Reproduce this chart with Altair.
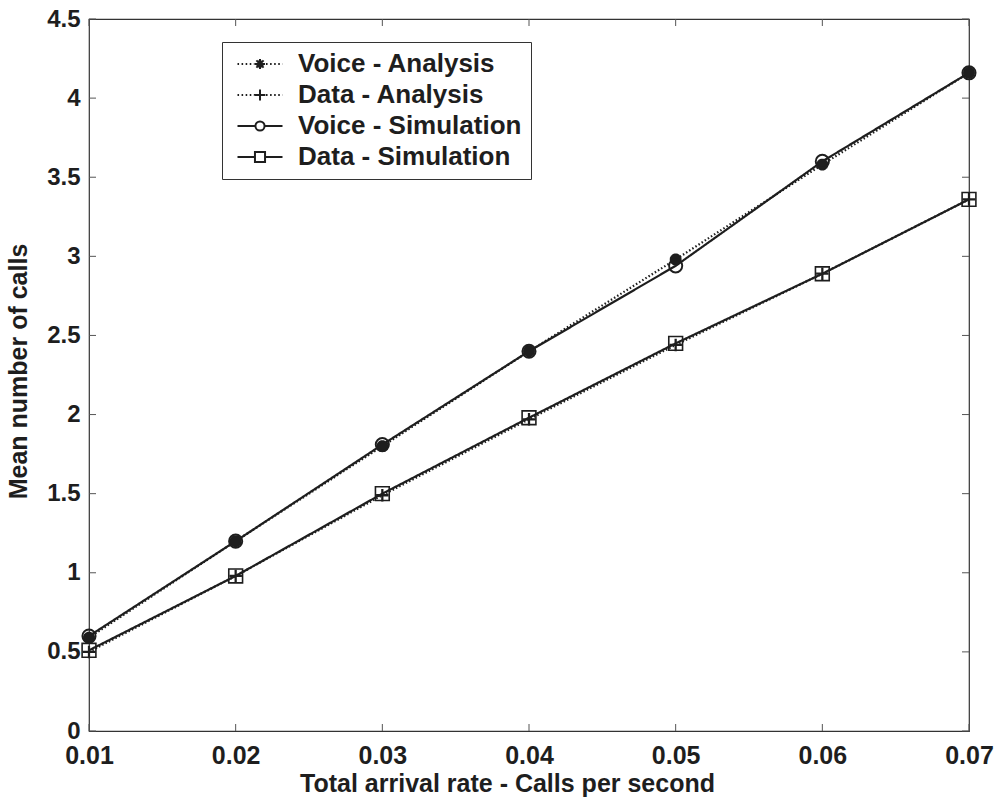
import altair as alt
import pandas as pd

# ---- data ----
x_rate = [0.01, 0.02, 0.03, 0.04, 0.05, 0.06, 0.07]
voice_analysis = [0.59, 1.20, 1.80, 2.40, 2.98, 3.58, 4.16]
data_analysis = [0.50, 0.98, 1.49, 1.97, 2.44, 2.89, 3.36]
voice_simulation = [0.60, 1.20, 1.81, 2.40, 2.94, 3.60, 4.16]
data_simulation = [0.51, 0.98, 1.50, 1.98, 2.45, 2.89, 3.36]
series_names = ["Voice - Analysis", "Data - Analysis", "Voice - Simulation", "Data - Simulation"]
x_ticks = [0.01, 0.02, 0.03, 0.04, 0.05, 0.06, 0.07]
y_ticks = [0, 0.5, 1, 1.5, 2, 2.5, 3, 3.5, 4, 4.5]

W, H = 880, 712
INK = "#1e1e1e"
FONT = "Liberation Sans"

rows = []
for name, vals in zip(series_names, [voice_analysis, data_analysis, voice_simulation, data_simulation]):
    for xv, yv in zip(x_rate, vals):
        rows.append({"rate": xv, "calls": yv, "series": name})
df = pd.DataFrame(rows)
xt = pd.DataFrame({"rate": x_ticks})
yt = pd.DataFrame({"calls": y_ticks})

xscale = alt.Scale(domain=[0.01, 0.07], nice=False, zero=False)
yscale = alt.Scale(domain=[0, 4.5], nice=False, zero=False)

xaxis = alt.Axis(values=x_ticks, format=".2f", title="Total arrival rate - Calls per second",
                 labelPadding=12, labelFlush=False, labelOverlap=False,
                 titleX=418, titleY=60, titleBaseline="alphabetic", titleAlign="center")
yaxis = alt.Axis(values=y_ticks, format="~g", title="Mean number of calls",
                 labelPadding=9, labelFlush=False, labelOverlap=False, labelFontSize=24,
                 titleX=-63, titleY=352, titleBaseline="alphabetic", titleAngle=270,
                 titleAlign="center")

X = alt.X("rate:Q", scale=xscale, axis=xaxis)
Y = alt.Y("calls:Q", scale=yscale, axis=yaxis)

# ---- marker shapes (style) ----
asterisk = "M-1,0H1M0,-1V1M-0.7,-0.7L0.7,0.7M-0.7,0.7L0.7,-0.7M-0.45,-0.9L0.45,0.9M-0.45,0.9L0.45,-0.9M-0.9,-0.45L0.9,0.45M-0.9,0.45L0.9,-0.45"
plus = "M-1,0H1M0,-1V1"


def dotted(a, b, period=0.34, dash=0.13):
    segs = []
    x = a
    while x < b - 1e-9:
        segs.append(f"M{x:.3f},0H{min(x + dash, b):.3f}")
        x += period
    return "".join(segs)


L, m = 1.875, 0.45
leg_voice_ana = dotted(-L, -m) + "M-0.42,0H0.42M0,-0.42V0.42M-0.3,-0.3L0.3,0.3M-0.3,0.3L0.3,-0.3M0,-0.3L0.3,0L0,0.3L-0.3,0Z" + dotted(m + 0.05, L)
leg_data_ana = dotted(-L, -m) + "M-0.45,0H0.45M0,-0.45V0.45" + dotted(m + 0.05, L)
leg_voice_sim = f"M{-L},0H-0.38M0.38,0H{L}M-0.38,0A0.38,0.38 0 1,0 0.38,0A0.38,0.38 0 1,0 -0.38,0Z"
leg_data_sim = f"M{-L},0H-0.42M0.42,0H{L}M-0.42,-0.42H0.42V0.42H-0.42Z"

base = alt.Chart(df)

lines = base.mark_line(strokeWidth=2.2, color=INK).encode(
    x=X, y=Y,
    strokeDash=alt.StrokeDash("series:N", scale=alt.Scale(domain=series_names,
                              range=[[1.5, 2.2], [1.5, 2.2], [1, 0], [1, 0]]), legend=None),
)

points = base.mark_point(filled=False, color=INK, opacity=1).encode(
    x=X, y=Y,
    shape=alt.Shape("series:N", scale=alt.Scale(domain=series_names,
                    range=[asterisk, plus, "circle", "square"]), legend=None),
    size=alt.Size("series:N", scale=alt.Scale(domain=series_names, range=[140, 190, 170, 190]), legend=None),
    strokeWidth=alt.StrokeWidth("series:N", scale=alt.Scale(domain=series_names, range=[2.6, 1.6, 2.2, 1.6]),
                                legend=None),
)

legend_layer = base.mark_point(filled=False, color=INK, opacity=0).encode(
    x=X, y=Y,
    shape=alt.Shape("series:N", scale=alt.Scale(domain=series_names,
                    range=[leg_voice_ana, leg_data_ana, leg_voice_sim, leg_data_sim]),
                    legend=alt.Legend(title=None, orient="none", legendX=133, legendY=23,
                                      symbolSize=576, symbolStrokeWidth=2, symbolStrokeColor=INK,
                                      symbolFillColor="transparent", symbolOpacity=1,
                                      symbolOffset=16, labelOffset=25, rowPadding=5, padding=9,
                                      labelFont=FONT, labelFontSize=26, labelFontWeight="bold",
                                      labelColor=INK, labelLimit=500,
                                      strokeColor="#333", fillColor="white")),
)

tick_color = "#555"
bottom_ticks = alt.Chart(xt).mark_rule(color=tick_color, strokeWidth=1).encode(
    x=alt.X("rate:Q", scale=xscale), y=alt.value(H), y2=alt.value(H - 7))
top_ticks = alt.Chart(xt).mark_rule(color=tick_color, strokeWidth=1).encode(
    x=alt.X("rate:Q", scale=xscale), y=alt.value(0), y2=alt.value(7))
left_ticks = alt.Chart(yt).mark_rule(color=tick_color, strokeWidth=1).encode(
    y=alt.Y("calls:Q", scale=yscale), x=alt.value(0), x2=alt.value(7))
right_ticks = alt.Chart(yt).mark_rule(color=tick_color, strokeWidth=1).encode(
    y=alt.Y("calls:Q", scale=yscale), x=alt.value(W - 7), x2=alt.value(W))

chart = alt.layer(
    bottom_ticks, top_ticks, left_ticks, right_ticks, lines, points, legend_layer
).resolve_scale(shape="independent", size="independent", strokeWidth="independent").properties(
    width=W, height=H,
    padding={"left": 89, "top": 19, "right": 36, "bottom": 70},
    autosize=alt.AutoSizeParams(type="none"),
    background="white",
).configure_view(stroke="#333", strokeWidth=1.2).configure_axis(
    grid=False, ticks=False, domain=False,
    labelFont=FONT, labelFontSize=25, labelFontWeight="bold", labelColor=INK,
    titleFont=FONT, titleFontSize=25, titleFontWeight="bold", titleColor=INK,
)

chart.save("out.html", embed_options={"renderer": "svg", "actions": False})
